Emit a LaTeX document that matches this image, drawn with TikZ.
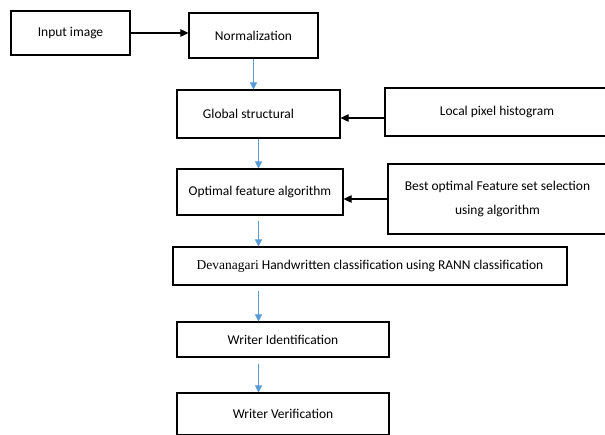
\documentclass[tikz,border=0pt]{standalone}
\usepackage{fontspec}
\setmainfont{Carlito}
\newfontfamily\devfont{Liberation Serif}
\usetikzlibrary{arrows.meta, positioning, calc}

\begin{document}
\begin{tikzpicture}[x=0.03cm, y=-0.03cm]
    % Define styles
    \tikzset{
        stage/.style={
            rectangle,
            draw=black,
            line width=0.9pt,
            font=\fontsize{11.5}{14}\selectfont,
            align=center,
            anchor=center
        },
        black arrow/.style={-{Triangle[length=7pt, width=6.5pt]}, line width=0.9pt},
        blue arrow/.style={-{Triangle[length=6pt, width=6pt]}, line width=0.6pt, color={rgb,255:red,91;green,155;blue,213}}
    }

    % Frame of the picture
    \useasboundingbox (0,0) rectangle (605,434);
    \clip (0,0) rectangle (605,434);

    % Top row
    \node[stage, minimum width=119*0.03cm, minimum height=44*0.03cm] (input) at (70.5,33) {Input image};
    \node[stage, minimum width=129*0.03cm, minimum height=45*0.03cm] (norm) at (253.5,35.5) {Normalization};

    % Feature stages with their side inputs
    \node[stage, minimum width=163*0.03cm, minimum height=48*0.03cm] (global) at (258.5,114) {Global structural\hspace*{0.6cm}};
    \node[stage, minimum width=224*0.03cm, minimum height=48*0.03cm] (local) at (497,112) {Local pixel histogram};
    \node[stage, minimum width=166*0.03cm, minimum height=46*0.03cm] (optimal) at (260,192) {Optimal feature algorithm};
    \node[stage, minimum width=219*0.03cm, minimum height=70*0.03cm, font=\fontsize{11.5}{20}\selectfont] (best) at (497.5,199) {Best optimal Feature set selection\\using algorithm};

    % Classification and writer stages
    \node[stage, minimum width=394*0.03cm, minimum height=38*0.03cm] (dev) at (370,266) {{\devfont Devanagari} Handwritten classification using RANN classification};
    \node[stage, minimum width=212*0.03cm, minimum height=35*0.03cm] (ident) at (283,339.5) {Writer Identification};
    \node[stage, minimum width=212*0.03cm, minimum height=42*0.03cm] (verif) at (283,414) {Writer Verification};

    % Black arrows into the flow
    \coordinate (localin) at ($(local.west)+(0,6)$);
    \draw[black arrow] (input.east) -- (input.east -| norm.west);
    \draw[black arrow] (localin) -- (localin -| global.east);
    \draw[black arrow] (best.west) -- (best.west -| optimal.east);

    % Blue arrows down the flow
    \draw[blue arrow] (norm.south) -- (norm.south |- global.north);
    \draw[blue arrow] (global.south) -- (global.south |- optimal.north);
    \draw[blue arrow, shorten <=5*0.03cm] (global.south |- optimal.south) -- (global.south |- dev.north);
    \draw[blue arrow, shorten <=5*0.03cm] (global.south |- dev.south) -- (global.south |- ident.north);
    \draw[blue arrow, shorten <=6*0.03cm] (global.south |- ident.south) -- (global.south |- verif.north);

\end{tikzpicture}
\end{document}
